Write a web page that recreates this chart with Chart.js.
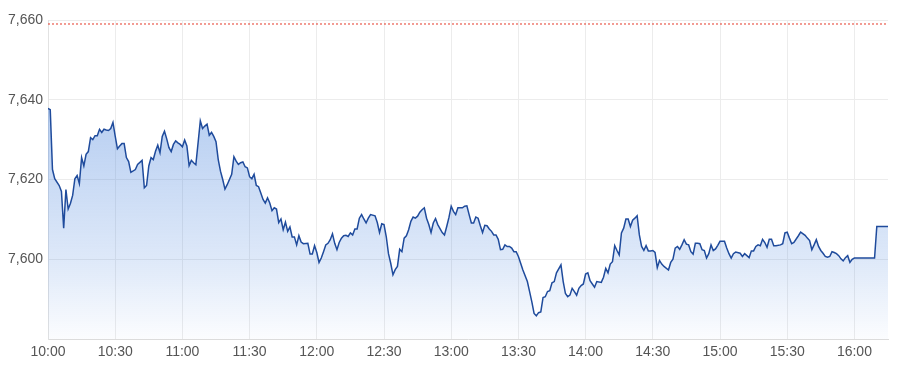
<!DOCTYPE html>
<html><head><meta charset="utf-8">
<script src="https://cdn.jsdelivr.net/npm/chart.js@4.4.1/dist/chart.umd.min.js"></script>
<style>html,body{margin:0;padding:0;background:#fff}#wrap{width:900px;height:375px;position:relative}</style>
</head><body><div id="wrap"><canvas id="c"></canvas></div>
<script>
// minutes after 10:00
const minutes = [
0,1,2,3,5,6,7,8,9,10,11,12,13,14,15,16,17,18,19,20,21,22,23,24,25,26,27,28,29,30,
31,32,33,34,35,36,37,39,40,42,43,44,45,46,47,48,49,50,51,52,53,54,55,56,57,58,59,60,
61,62,63,64,65,66,67,68,69,70,71,72,73,74,75,76,77,78,79,80,82,83,84,85,86,87,88,89,90,
91,92,93,94,95,96,97,98,99,100,101,102,103,104,105,106,107,108,109,110,111,112,113,114,116,117,118,119,120,
121,122,123,124,125,126,127,128,129,130,131,132,133,134,135,136,137,138,139,140,141,142,143,144,146,147,148,149,150,
151,152,153,154,155,156,157,158,159,160,161,162,163,164,165,166,167,168,169,170,171,172,173,174,176,177,178,179,180,
181,182,183,185,186,187,188,189,190,191,192,193,194,195,196,197,198,199,200,201,202,203,204,205,206,207,208,209,210,
211,212,214,215,216,217,218,219,220,221,222,223,224,225,226,227,229,230,231,232,233,234,235,236,237,238,239,240,
241,242,243,244,245,247,248,249,250,251,252,253,254,255,256,257,258,259,260,261,262,263,264,265,266,267,268,269,270,
271,272,273,274,275,277,278,279,280,281,282,283,284,285,286,287,288,289,290,291,292,293,294,295,296,297,298,299,300,
302,303,304,305,306,307,309,310,311,312,313,314,315,316,317,318,319,320,321,322,323,324,325,327,328,329,330,
331,332,333,335,336,338,339,340,341,342,343,344,345,346,347,348,349,350,351,352,353,354,355,356,357,358,359,360,
369,370,375
];
const prices = [
7637.8,7637.5,7622.5,7620.2,7618.5,7617.0,7607.8,7617.5,7612.6,7614.0,7616.0,7620.2,7621.0,7619.0,7625.5,7623.4,7626.3,7627.0,7630.5,7630.0,7631.0,7631.0,7632.6,7631.8,7632.6,7632.4,7632.3,7632.8,7634.3,7630.9,
7627.7,7628.4,7629.0,7629.0,7625.5,7624.5,7621.8,7622.5,7623.8,7624.8,7617.9,7618.5,7623.4,7625.5,7625.0,7627.1,7628.6,7626.7,7630.8,7632.1,7630.2,7628.0,7627.0,7628.8,7629.7,7629.2,7628.8,7628.2,
7629.9,7628.4,7623.5,7624.8,7624.2,7623.7,7629.2,7634.7,7632.8,7633.4,7633.9,7631.1,7631.8,7630.8,7629.5,7625.0,7622.1,7620.0,7617.6,7618.7,7621.3,7625.7,7624.6,7623.8,7624.2,7624.4,7623.2,7622.9,7620.7,
7620.2,7621.3,7618.5,7618.2,7616.6,7615.0,7614.1,7615.4,7614.1,7612.2,7612.9,7612.6,7609.2,7610.1,7607.4,7609.3,7607.0,7608.1,7605.6,7605.6,7603.6,7605.9,7604.3,7603.9,7604.0,7601.3,7601.3,7603.4,7601.7,
7599.2,7600.3,7601.9,7603.6,7604.0,7604.9,7606.4,7604.0,7602.4,7604.2,7605.3,7605.9,7606.0,7605.7,7606.6,7606.1,7607.6,7607.6,7610.3,7611.2,7610.1,7609.1,7610.3,7611.2,7610.9,7609.2,7606.7,7608.9,7608.7,
7605.7,7601.4,7599.0,7596.1,7597.4,7598.2,7602.5,7601.9,7605.3,7605.9,7607.4,7609.5,7610.6,7610.3,7610.8,7611.8,7612.4,7612.9,7610.3,7608.7,7606.7,7609.1,7610.2,7608.7,7606.7,7606.1,7608.2,7610.5,7613.3,
7612.0,7611.2,7612.9,7612.9,7613.3,7613.4,7611.2,7609.1,7609.1,7610.6,7610.3,7608.4,7606.7,7608.5,7608.4,7607.6,7607.0,7606.1,7606.1,7605.0,7602.4,7602.5,7603.6,7603.2,7603.2,7602.8,7601.9,7601.9,7600.7,
7599.0,7597.3,7594.4,7591.9,7589.3,7586.4,7585.8,7586.6,7586.8,7590.4,7590.6,7591.9,7592.1,7594.1,7594.4,7596.6,7598.6,7594.4,7591.4,7590.6,7591.0,7592.7,7591.9,7591.0,7592.7,7593.4,7593.8,7596.3,
7596.6,7594.6,7593.8,7593.0,7594.4,7594.2,7595.5,7597.7,7596.6,7598.8,7599.4,7603.4,7602.2,7601.1,7606.6,7607.8,7610.1,7610.1,7608.2,7609.8,7610.3,7610.9,7606.1,7603.2,7602.2,7603.4,7602.1,7602.1,7602.2,
7601.7,7597.9,7599.7,7598.8,7598.2,7597.3,7599.2,7600.0,7602.8,7603.2,7602.5,7603.6,7604.9,7603.8,7603.6,7601.9,7601.3,7604.0,7604.0,7603.9,7602.4,7602.2,7600.3,7601.4,7603.6,7602.2,7602.6,7603.5,7604.5,
7604.5,7602.8,7601.4,7600.3,7601.4,7601.8,7601.5,7600.7,7601.4,7600.9,7600.4,7602.1,7602.1,7603.2,7603.6,7603.4,7605.0,7604.2,7603.0,7605.0,7605.0,7603.4,7603.4,7603.6,7603.9,7606.6,7606.8,
7605.3,7603.9,7604.2,7605.9,7606.8,7606.0,7605.3,7604.7,7602.4,7603.6,7604.9,7603.2,7602.2,7601.5,7600.7,7600.5,7600.7,7601.9,7601.7,7601.4,7600.9,7600.1,7599.6,7600.4,7600.9,7599.2,7600.0,7600.3,
7600.3,7608.2,7608.2
];
const refLevel = 7659;
const xTickMinutes = [0,30,60,90,120,150,180,210,240,270,300,330,360];
const xTickLabels = ["10:00","10:30","11:00","11:30","12:00","12:30","13:00","13:30","14:00","14:30","15:00","15:30","16:00"];
const yTickValues = [7600,7620,7640,7660];
const yMin = 7580, yMax = 7660, xMin = 0, xMax = 375;

const series = minutes.map((m,i)=>({x:m,y:prices[i]}));
const refSeries = [{x:xMin,y:refLevel},{x:xMax,y:refLevel}];
const tickFont = {family:"'Liberation Sans', Arial, sans-serif", size:14};

function fillGrad(context){
  const {ctx, chartArea} = context.chart;
  if(!chartArea) return 'rgba(70,130,220,0.2)';
  const g = ctx.createLinearGradient(0, chartArea.top, 0, chartArea.bottom);
  g.addColorStop(0, 'rgba(70,130,220,0.48)');
  g.addColorStop(0.3, 'rgba(70,130,220,0.38)');
  g.addColorStop(0.75, 'rgba(70,130,220,0.18)');
  g.addColorStop(1, 'rgba(70,130,220,0.02)');
  return g;
}

new Chart(document.getElementById('c'), {
  type:'line',
  data:{datasets:[
    {data:series, borderColor:'#1f4b9c', borderWidth:1.5, pointRadius:0, tension:0, fill:'start', backgroundColor:fillGrad, order:2},
    {data:refSeries, borderColor:'#e53a2a', borderWidth:1, borderDash:[2,2], pointRadius:0, fill:false, order:1}
  ]},
  options:{
    responsive:true, maintainAspectRatio:false, animation:false,
    layout:{padding:{top:20,right:12,left:0,bottom:0}},
    plugins:{legend:{display:false}, tooltip:{enabled:false}},
    scales:{
      x:{type:'linear', min:xMin, max:xMax,
        afterBuildTicks:s=>{s.ticks = xTickMinutes.map(v=>({value:v}));},
        afterFit:s=>{s.height=36;},
        ticks:{callback:(v,i)=>xTickLabels[i], font:tickFont, color:'#555', padding:5, maxRotation:0, autoSkip:false},
        grid:{color:'#ececec', drawTicks:false},
        border:{color:'#dcdcdc'}
      },
      y:{min:yMin, max:yMax,
        afterBuildTicks:s=>{s.ticks = yTickValues.map(v=>({value:v}));},
        afterFit:s=>{s.width=48;},
        ticks:{callback:v=>v.toLocaleString('en-US'), font:tickFont, color:'#555', padding:5},
        grid:{color:'#ececec', drawTicks:false},
        border:{color:'#e2e2e2'}
      }
    }
  }
});
</script></body></html>
